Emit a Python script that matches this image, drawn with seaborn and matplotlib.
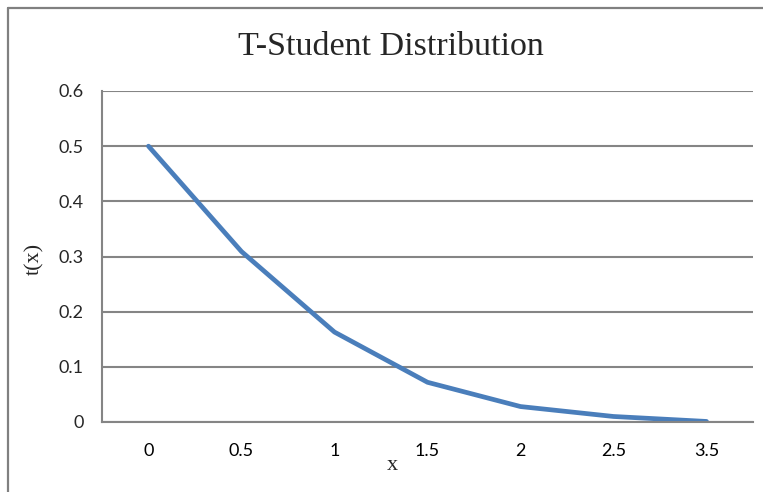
import seaborn as sns
import matplotlib.pyplot as plt
import pandas as pd
from matplotlib.lines import Line2D

# data
x_labels = ["0", "0.5", "1", "1.5", "2", "2.5", "3.5"]
t_values = [0.5, 0.309, 0.163, 0.072, 0.028, 0.010, 0.001]
y_ticks = [0, 0.1, 0.2, 0.3, 0.4, 0.5, 0.6]

df = pd.DataFrame({"x": x_labels, "t": t_values})

sns.set_style("white")
plt.rcParams["font.family"] = ["Lato", "DejaVu Sans"]

fig = plt.figure(figsize=(7.63, 4.92), dpi=100)
ax = fig.add_axes([102 / 763, 1 - 422 / 492, (753 - 102) / 763, (422 - 91) / 492])

grid_col = "#858585"

sns.lineplot(data=df, x="x", y="t", ax=ax, color="#4a7ebb", linewidth=3.4, sort=False)

# categorical x axis: labels at centres, tick marks between categories
n = len(x_labels)
ax.set_xlim(-0.5, n - 0.5)
ax.set_xticks(range(n))
ax.set_xticklabels(x_labels, fontsize=13)
ax.set_xticks([i - 0.5 for i in range(n + 1)], minor=True)
ax.tick_params(axis="x", which="major", length=0, pad=15, colors="black")
ax.tick_params(axis="x", which="minor", length=6, width=1.4, color=grid_col, direction="out")

ax.set_ylim(0, 0.6)
ax.set_yticks(y_ticks)
ax.set_yticklabels(["0" if v == 0 else f"{v:g}" for v in y_ticks], fontsize=13)
ax.tick_params(axis="y", length=5, width=1.4, color=grid_col, direction="out", pad=8)

ax.grid(axis="y", color=grid_col, linewidth=1.5)
ax.set_axisbelow(True)
for s in ["top", "right"]:
    ax.spines[s].set_visible(False)
for s in ["left", "bottom"]:
    ax.spines[s].set_color(grid_col)
    ax.spines[s].set_linewidth(1.5)

ax.set_xlabel("")
ax.set_ylabel("")

fig.text(391 / 763, 1 - 47 / 492, "T-Student Distribution", ha="center", va="center",
         fontsize=24.5, family="Liberation Serif")
fig.text(35 / 763, 1 - 259 / 492, "t(x)", ha="center", va="center", rotation=90,
         fontsize=16, family="Liberation Serif")
fig.text(392 / 763, 1 - 466 / 492, "x", ha="center", va="center",
         fontsize=16, family="Liberation Serif")

# chart frame (only top and left edges are visible in the crop)
fig.add_artist(Line2D([8 / 763, 8 / 763], [0, 1 - 8 / 492], transform=fig.transFigure,
                      color="#808080", linewidth=1.6))
fig.add_artist(Line2D([8 / 763, 1], [1 - 8 / 492, 1 - 8 / 492], transform=fig.transFigure,
                      color="#808080", linewidth=1.6))

fig.savefig("out.png", dpi=100)
